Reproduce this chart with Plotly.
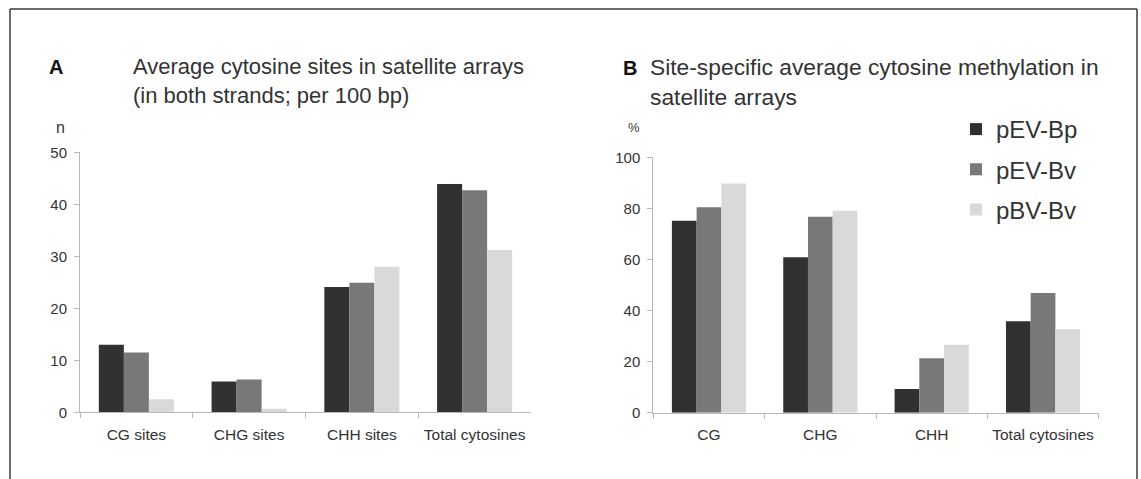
import plotly.graph_objects as go

W, H = 1141, 479

series = ["pEV-Bp", "pEV-Bv", "pBV-Bv"]
colors = ["#323031", "#78787a", "#d8d9db"]

cats_a = ["CG sites", "CHG sites", "CHH sites", "Total cytosines"]
sites_bp = [13.0, 5.9, 24.1, 43.9]
sites_ev = [11.5, 6.3, 24.9, 42.7]
sites_bv = [2.5, 0.7, 28.0, 31.2]

cats_b = ["CG", "CHG", "CHH", "Total cytosines"]
meth_bp = [75.2, 60.9, 9.3, 35.8]
meth_ev = [80.4, 76.7, 21.3, 46.9]
meth_bv = [89.7, 79.1, 26.6, 32.7]

FONT = "Liberation Sans, Arial, sans-serif"
AXIS_GRAY = "#b8b8b8"
TEXT = "#333333"


def px_x(x):
    return x / W


def px_y(y):
    return 1 - y / H


fig = go.Figure()

for name, col, a_vals, b_vals in zip(series, colors,
                                     [sites_bp, sites_ev, sites_bv],
                                     [meth_bp, meth_ev, meth_bv]):
    fig.add_trace(go.Bar(x=cats_a, y=a_vals, name=name, marker_color=col,
                         marker_line_width=0, xaxis="x", yaxis="y",
                         legendgroup=name, showlegend=False))
    fig.add_trace(go.Bar(x=cats_b, y=b_vals, name=name, marker_color=col,
                         marker_line_width=0, xaxis="x2", yaxis="y2",
                         legendgroup=name, showlegend=True))

xcommon = dict(type="category", showline=True, linecolor=AXIS_GRAY, linewidth=1,
               ticks="outside", tickson="boundaries", ticklen=5,
               tickcolor=AXIS_GRAY, showgrid=False, zeroline=False,
               ticklabelstandoff=8, automargin=False,
               tickfont=dict(family=FONT, size=15.5, color=TEXT))
ycommon = dict(showline=True, linecolor=AXIS_GRAY, linewidth=1,
               ticks="outside", ticklen=5, tickcolor=AXIS_GRAY,
               showgrid=False, zeroline=False, ticklabelstandoff=4,
               automargin=False,
               tickfont=dict(family=FONT, size=15, color=TEXT))

fig.update_layout(
    width=W, height=H,
    margin=dict(l=0, r=0, t=0, b=0, pad=0, autoexpand=False),
    paper_bgcolor="white", plot_bgcolor="white",
    barmode="group", bargap=0.334, bargroupgap=0,
    xaxis=dict(domain=[px_x(80), px_x(531)], anchor="y", **xcommon),
    yaxis=dict(domain=[px_y(412.3), px_y(152.3)], anchor="x",
               range=[0, 50], tickvals=[0, 10, 20, 30, 40, 50], **ycommon),
    xaxis2=dict(domain=[px_x(653.3), px_x(1098.7)], anchor="y2", **xcommon),
    yaxis2=dict(domain=[px_y(412.7), px_y(157.3)], anchor="x2",
                range=[0, 100], tickvals=[0, 20, 40, 60, 80, 100], **ycommon),
    legend=dict(x=px_x(956), y=px_y(107), xanchor="left", yanchor="top",
                font=dict(family=FONT, size=24, color=TEXT),
                bgcolor="rgba(0,0,0,0)", tracegroupgap=6,
                itemwidth=30),
    font=dict(family=FONT, color=TEXT),
)

annotations = [
    dict(text="<b>A</b>", x=px_x(56), y=px_y(67), xanchor="center", yanchor="middle",
         font=dict(family=FONT, size=20, color="#111111")),
    dict(text="Average cytosine sites in satellite arrays<br>(in both strands; per 100 bp)",
         x=px_x(131), y=px_y(52), xanchor="left", yanchor="top", align="left",
         font=dict(family=FONT, size=22, color=TEXT)),
    dict(text="n", x=px_x(60), y=px_y(127), xanchor="center", yanchor="middle",
         font=dict(family=FONT, size=16, color=TEXT)),
    dict(text="<b>B</b>", x=px_x(630), y=px_y(68), xanchor="center", yanchor="middle",
         font=dict(family=FONT, size=20, color="#111111")),
    dict(text="Site-specific average cytosine methylation in<br>satellite arrays",
         x=px_x(648), y=px_y(52), xanchor="left", yanchor="top", align="left",
         font=dict(family=FONT, size=22.8, color=TEXT)),
    dict(text="%", x=px_x(634), y=px_y(128), xanchor="center", yanchor="middle",
         font=dict(family=FONT, size=13, color=TEXT)),
]
for a in annotations:
    a.update(xref="paper", yref="paper", showarrow=False)
fig.update_layout(annotations=annotations)

# outer frame: top, left and right edges
frame = dict(type="line", xref="paper", yref="paper",
             line=dict(color="#3a3a3a", width=1.5))
fig.add_shape(x0=px_x(10), x1=px_x(1137), y0=px_y(9), y1=px_y(9), **frame)
fig.add_shape(x0=px_x(10), x1=px_x(10), y0=px_y(9), y1=-0.05, **frame)
fig.add_shape(x0=px_x(1137), x1=px_x(1137), y0=px_y(9), y1=-0.05, **frame)

fig.write_html("out.html",
               post_script="document.body.style.margin='0';"
                           "document.body.style.overflow='hidden';")
